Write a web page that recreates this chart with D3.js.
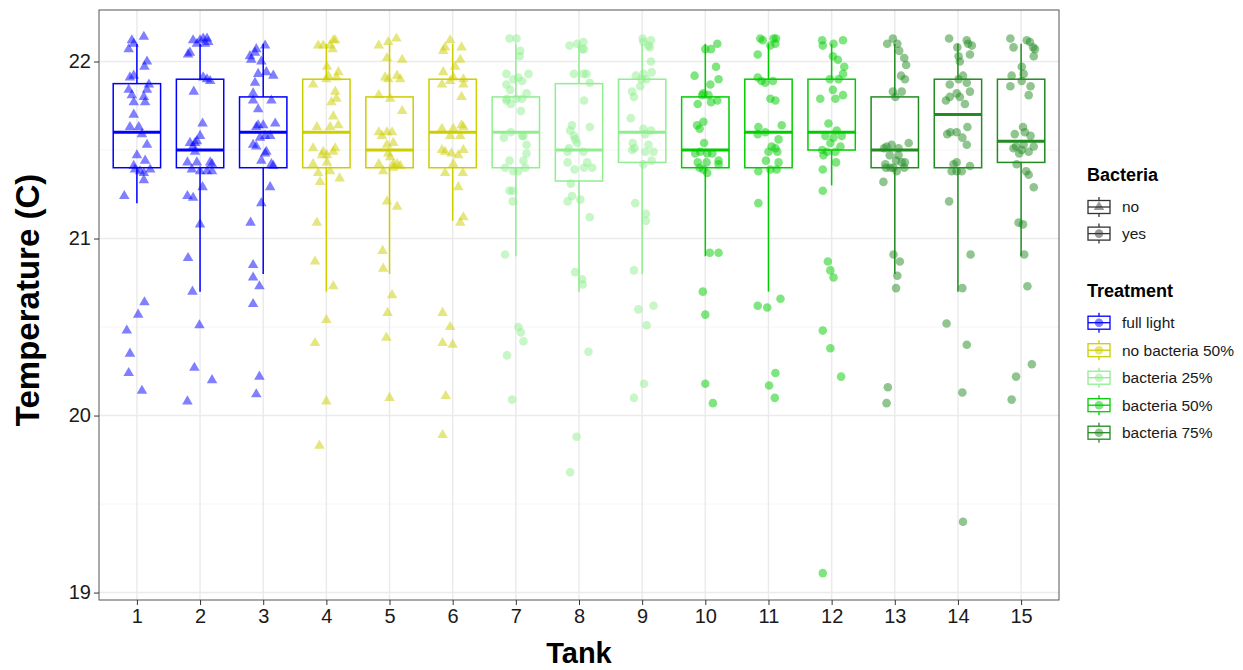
<!DOCTYPE html>
<html>
<head>
<meta charset="utf-8">
<script src="https://cdn.jsdelivr.net/npm/d3@7"></script>
<style>
  body { margin: 0; background: #fff; }
  text { font-family: "Liberation Sans", Arial, sans-serif; }
</style>
</head>
<body>
<div class="chart"></div>
<script>
// Tank categories and groupings
const tanks = [1, 2, 3, 4, 5, 6, 7, 8, 9, 10, 11, 12, 13, 14, 15];
const treatments = ["full light", "no bacteria 50%", "bacteria 25%", "bacteria 50%", "bacteria 75%"];
const treatmentColors = ["#0000FF", "#CDCD00", "#90EE90", "#00CD00", "#228B22"];
const tankTreatment = [0, 0, 0, 1, 1, 1, 2, 2, 2, 3, 3, 3, 4, 4, 4];
const tankBacteria = ["no", "no", "no", "no", "no", "no", "yes", "yes", "yes", "yes", "yes", "yes", "yes", "yes", "yes"];

// Box statistics
const whiskerLow  = [21.20, 20.70, 20.80, 20.70, 20.80, 21.10, 20.90, 20.70, 20.80, 20.90, 20.70, 21.30, 20.80, 20.70, 20.90];
const lowerHinge  = [21.40, 21.40, 21.40, 21.40, 21.40, 21.40, 21.40, 21.325, 21.43, 21.40, 21.40, 21.50, 21.40, 21.40, 21.43];
const medians     = [21.60, 21.50, 21.60, 21.60, 21.50, 21.60, 21.60, 21.50, 21.60, 21.50, 21.60, 21.60, 21.50, 21.70, 21.55];
const upperHinge  = [21.875, 21.90, 21.80, 21.90, 21.80, 21.90, 21.80, 21.875, 21.90, 21.80, 21.90, 21.90, 21.80, 21.90, 21.90];
const whiskerHigh = [22.10, 22.10, 22.10, 22.10, 22.10, 22.10, 22.10, 22.10, 22.10, 22.10, 22.10, 22.10, 22.10, 22.10, 22.10];

// Jittered observations per tank: [jitter offset (tank units), temperature]
const tank01 = [[.11,22.14],[-.08,22.12],[-.13,22.07],[-.05,22.10],[.16,22.00],[.12,21.97],[-.05,21.92],[-.11,21.91],[.19,21.87],[.16,21.84],[-.13,21.84],[-.08,21.81],[.11,21.80],[-.05,21.77],[.13,21.77],[-.05,21.70],[-.11,21.63],[.03,21.63],[.08,21.59],[.16,21.53],[0,21.47],[.13,21.44],[-.05,21.41],[-.03,21.39],[.21,21.39],[.05,21.38],[.11,21.37],[.11,21.33],[-.2,21.24],[.12,20.64],[.02,20.57],[-.16,20.48],[-.11,20.35],[-.13,20.24],[.08,20.14]];
const tank02 = [[-.11,22.12],[0,22.12],[.05,22.13],[.11,22.13],[.13,22.11],[.08,22.10],[-.05,22.10],[-.16,22.05],[-.19,22.04],[.05,21.91],[.11,21.90],[.16,21.89],[-.10,21.83],[.04,21.65],[0,21.58],[-.16,21.54],[-.08,21.54],[-.05,21.55],[-.11,21.52],[-.08,21.49],[-.20,21.43],[-.05,21.43],[.16,21.43],[.19,21.42],[-.13,21.39],[0,21.38],[.11,21.38],[.19,21.38],[.04,21.29],[-.20,21.24],[-.11,21.23],[0,21.08],[-.19,20.89],[-.12,20.70],[-.01,20.51],[-.09,20.27],[.19,20.20],[-.20,20.08]];
const tank03 = [[.03,22.09],[-.11,22.07],[-.13,22.05],[-.21,22.03],[-.19,22.01],[-.03,22.00],[-.08,21.93],[.05,21.94],[.16,21.92],[-.13,21.88],[-.16,21.82],[-.16,21.78],[-.08,21.73],[.13,21.78],[-.08,21.64],[0,21.64],[-.11,21.63],[.19,21.65],[.03,21.58],[-.05,21.57],[.11,21.58],[-.16,21.53],[-.11,21.52],[.05,21.49],[.03,21.48],[-.03,21.44],[.13,21.42],[.16,21.41],[.11,21.29],[-.03,21.20],[-.20,21.09],[-.16,20.85],[-.16,20.78],[-.06,20.73],[-.16,20.63],[-.06,20.22],[-.11,20.12]];
const tank04 = [[-.13,22.09],[-.05,22.09],[.06,22.09],[.11,22.12],[.10,22.07],[.14,22.12],[.01,21.97],[.19,21.94],[.03,21.92],[0,21.90],[.16,21.91],[-.21,21.87],[.14,21.83],[.16,21.79],[.08,21.77],[.11,21.69],[.19,21.64],[-.15,21.63],[.06,21.63],[-.21,21.51],[.14,21.51],[-.05,21.49],[.01,21.47],[-.07,21.47],[.11,21.49],[-.21,21.42],[.01,21.43],[.06,21.38],[-.13,21.37],[-.10,21.32],[.21,21.34],[-.15,21.09],[-.18,20.87],[.11,20.73],[0,20.54],[-.18,20.41],[0,20.08],[-.11,19.83]];
const tank05 = [[-.17,22.09],[-.02,22.11],[.11,22.13],[-.04,22.02],[.20,22.01],[-.07,21.91],[.12,21.92],[.17,21.90],[-.02,21.90],[-.17,21.81],[.01,21.79],[.20,21.72],[-.17,21.60],[-.04,21.60],[.04,21.60],[-.12,21.58],[.06,21.54],[-.04,21.53],[-.02,21.48],[.01,21.46],[-.17,21.42],[.06,21.42],[.12,21.42],[.17,21.41],[-.10,21.38],[.06,21.40],[-.04,21.21],[.12,21.18],[-.11,20.93],[-.10,20.83],[.04,20.68],[-.03,20.58],[-.05,20.44],[0,20.10]];
const tank06 = [[-.04,22.12],[-.12,22.08],[.14,22.08],[-.15,22.06],[.12,22.01],[.04,21.97],[-.15,21.94],[.01,21.91],[.17,21.90],[-.04,21.89],[-.17,21.87],[.17,21.87],[.14,21.80],[-.17,21.62],[.01,21.62],[.14,21.64],[.17,21.63],[-.04,21.58],[.12,21.58],[-.17,21.50],[-.12,21.49],[-.02,21.48],[.17,21.50],[.09,21.47],[.01,21.42],[-.12,21.37],[.16,21.37],[.09,21.29],[.17,21.12],[.12,21.09],[-.16,20.58],[-.04,20.50],[-.16,20.41],[0,20.40],[-.11,20.11],[-.16,19.89]];
const tank07 = [[-.10,22.13],[.01,22.13],[.07,22.06],[.06,22.03],[-.15,21.93],[.20,21.93],[-.04,21.90],[.04,21.91],[.10,21.89],[-.15,21.87],[-.09,21.84],[.17,21.82],[-.14,21.79],[-.15,21.78],[-.08,21.76],[.10,21.79],[.01,21.79],[.08,21.72],[-.08,21.60],[-.19,21.57],[.10,21.58],[.12,21.58],[.17,21.53],[.17,21.48],[-.10,21.44],[.12,21.44],[-.17,21.40],[.15,21.40],[-.04,21.38],[.04,21.38],[-.10,21.27],[-.05,21.27],[-.05,21.21],[-.17,20.91],[.04,20.50],[.08,20.47],[.12,20.42],[-.14,20.34],[-.06,20.09]];
const tank08 = [[-.15,22.09],[-.03,22.10],[.07,22.11],[.05,22.07],[.08,22.07],[-.08,21.93],[.07,21.93],[.12,21.93],[.17,21.88],[.08,21.78],[.17,21.63],[-.11,21.64],[-.14,21.61],[-.08,21.58],[-.06,21.56],[-.03,21.54],[-.16,21.51],[-.18,21.49],[.07,21.49],[-.18,21.43],[-.07,21.39],[.08,21.40],[.13,21.43],[.21,21.40],[-.13,21.31],[-.11,21.24],[-.18,21.21],[.02,21.22],[.17,21.12],[-.06,20.81],[.05,20.77],[.06,20.74],[.15,20.36],[-.04,19.88],[-.14,19.68]];
const tank09 = [[.01,22.13],[.02,22.11],[.14,22.12],[.10,22.09],[.12,22.08],[.14,22.00],[.15,21.94],[.02,21.93],[-.10,21.92],[.07,21.90],[-.01,21.90],[-.03,21.86],[-.16,21.83],[-.13,21.80],[-.18,21.68],[.02,21.62],[.14,21.61],[.05,21.59],[-.15,21.54],[.10,21.53],[-.16,21.50],[-.12,21.51],[.05,21.49],[.18,21.49],[.15,21.44],[.02,21.42],[-.11,21.20],[.06,21.14],[.06,21.10],[-.13,20.82],[-.06,20.60],[.18,20.62],[.07,20.51],[.03,20.18],[-.13,20.10]];
const tank10 = [[.19,22.10],[0,22.07],[.09,22.07],[.17,21.97],[-.17,21.92],[.21,21.90],[.08,21.87],[-.03,21.82],[-.05,21.81],[.05,21.81],[-.12,21.76],[.09,21.77],[.19,21.78],[-.13,21.64],[-.03,21.66],[-.09,21.62],[-.02,21.54],[-.16,21.48],[-.08,21.49],[.03,21.48],[.11,21.48],[-.12,21.43],[.02,21.43],[.21,21.44],[.21,21.42],[-.09,21.40],[-.03,21.39],[.03,21.37],[.07,20.92],[.21,20.92],[-.04,20.70],[0,20.57],[0,20.18],[.12,20.07]];
const tank11 = [[-.13,22.13],[-.09,22.12],[.08,22.13],[.12,22.13],[.03,22.09],[.11,22.10],[-.17,22.04],[-.17,21.91],[-.11,21.89],[-.05,21.88],[.07,21.89],[.03,21.79],[.11,21.78],[-.16,21.63],[-.17,21.59],[-.05,21.60],[.21,21.64],[.16,21.56],[.05,21.52],[0,21.49],[.11,21.51],[.14,21.49],[-.04,21.44],[.16,21.43],[-.16,21.38],[.03,21.39],[.13,21.39],[-.16,21.20],[.19,20.66],[-.17,20.62],[-.02,20.61],[.11,20.24],[.01,20.17],[.10,20.10]];
const tank12 = [[-.15,22.12],[-.14,22.09],[.03,22.10],[.18,22.12],[.02,22.03],[.10,22.01],[.20,21.97],[.18,21.93],[.11,21.90],[-.03,21.90],[.02,21.84],[.18,21.81],[-.18,21.79],[.06,21.79],[-.05,21.65],[.08,21.61],[.16,21.58],[-.10,21.58],[.03,21.57],[-.02,21.54],[.14,21.52],[-.15,21.50],[-.07,21.49],[.06,21.49],[-.13,21.47],[.07,21.43],[-.14,21.39],[-.14,21.27],[-.06,20.87],[-.02,20.82],[.03,20.78],[-.14,20.48],[-.02,20.38],[.15,20.22],[-.14,19.11]];
const tank13 = [[-.03,22.13],[-.12,22.10],[.04,22.10],[.07,22.06],[.15,22.02],[.18,21.98],[.10,21.92],[.16,21.90],[-.03,21.83],[.11,21.83],[.01,21.80],[-.17,21.51],[-.05,21.53],[.06,21.51],[.22,21.54],[-.13,21.52],[-.08,21.47],[.06,21.47],[.02,21.44],[.11,21.43],[.16,21.43],[-.15,21.42],[-.14,21.40],[-.02,21.40],[.15,21.40],[.03,21.38],[-.07,21.40],[-.18,21.32],[-.02,20.91],[.08,20.87],[.04,20.79],[.02,20.72],[-.11,20.16],[-.13,20.07]];
const tank14 = [[-.14,22.13],[.14,22.12],[-.01,22.08],[.22,22.09],[.16,22.10],[.01,22.03],[.03,22.00],[.19,22.04],[.08,21.92],[-.13,21.87],[.14,21.88],[.01,21.90],[.19,21.83],[-.02,21.82],[-.13,21.80],[-.19,21.78],[.03,21.80],[.11,21.76],[.15,21.63],[-.02,21.60],[-.12,21.60],[-.17,21.59],[.07,21.57],[.14,21.53],[-.02,21.43],[-.07,21.42],[.19,21.41],[-.10,21.38],[-.02,21.38],[.06,21.38],[-.14,21.21],[.20,20.91],[.07,20.72],[-.18,20.52],[.14,20.40],[.07,20.13],[.08,19.40]];
const tank15 = [[-.17,22.13],[-.12,22.08],[.09,22.12],[.14,22.11],[.19,22.08],[.22,22.07],[.20,22.03],[.01,21.97],[.04,21.93],[-.15,21.92],[.01,21.89],[-.17,21.86],[.15,21.86],[.12,21.81],[.03,21.63],[.06,21.60],[-.10,21.59],[.15,21.58],[-.12,21.51],[-.08,21.52],[.04,21.53],[.20,21.52],[.01,21.50],[-.03,21.48],[.12,21.49],[-.07,21.42],[.08,21.38],[.12,21.36],[.20,21.29],[-.04,21.09],[.03,21.08],[.05,20.91],[.10,20.73],[.17,20.29],[-.08,20.22],[-.15,20.09]];
const tankPoints = [tank01, tank02, tank03, tank04, tank05, tank06, tank07, tank08, tank09, tank10, tank11, tank12, tank13, tank14, tank15];

const yTicks = [19, 20, 21, 22];
const yMinor = [19.5, 20.5, 21.5];

// Layout
const outerWidth = 1243;
const outerHeight = 670;
const panel = { left: 99, top: 10, right: 1059, bottom: 600 };

const svg = d3.select('.chart')
  .append('svg')
    .attr('width', outerWidth)
    .attr('height', outerHeight);

const x = d3.scaleLinear().domain([0.4, 15.6]).range([panel.left, panel.right]);
const y = d3.scaleLinear().domain([18.958, 22.291]).range([panel.bottom, panel.top]);
const boxHalf = 0.375;

// Grid lines
const grid = svg.append('g');
grid.selectAll('.minor').data(yMinor).enter().append('line')
  .attr('x1', panel.left).attr('x2', panel.right)
  .attr('y1', d => y(d)).attr('y2', d => y(d))
  .attr('stroke', '#f2f2f2').attr('stroke-width', 0.8);
grid.selectAll('.majorY').data(yTicks).enter().append('line')
  .attr('x1', panel.left).attr('x2', panel.right)
  .attr('y1', d => y(d)).attr('y2', d => y(d))
  .attr('stroke', '#ebebeb').attr('stroke-width', 1.5);
grid.selectAll('.majorX').data(tanks).enter().append('line')
  .attr('y1', panel.top).attr('y2', panel.bottom)
  .attr('x1', d => x(d)).attr('x2', d => x(d))
  .attr('stroke', '#ebebeb').attr('stroke-width', 1.5);

// Boxplots
const boxes = svg.append('g').selectAll('g').data(tanks).enter().append('g')
  .attr('stroke', (d, i) => treatmentColors[tankTreatment[i]])
  .attr('fill', 'none');
boxes.append('line')
  .attr('x1', d => x(d)).attr('x2', d => x(d))
  .attr('y1', (d, i) => y(whiskerHigh[i])).attr('y2', (d, i) => y(upperHinge[i]))
  .attr('stroke-width', 1.5);
boxes.append('line')
  .attr('x1', d => x(d)).attr('x2', d => x(d))
  .attr('y1', (d, i) => y(lowerHinge[i])).attr('y2', (d, i) => y(whiskerLow[i]))
  .attr('stroke-width', 1.5);
boxes.append('rect')
  .attr('x', d => x(d - boxHalf)).attr('width', d => x(d + boxHalf) - x(d - boxHalf))
  .attr('y', (d, i) => y(upperHinge[i])).attr('height', (d, i) => y(lowerHinge[i]) - y(upperHinge[i]))
  .attr('stroke-width', 1.5);
boxes.append('line')
  .attr('x1', d => x(d - boxHalf)).attr('x2', d => x(d + boxHalf))
  .attr('y1', (d, i) => y(medians[i])).attr('y2', (d, i) => y(medians[i]))
  .attr('stroke-width', 3);

// Jittered points
const triangle = d3.symbol().type(d3.symbolTriangle).size(48);
const pts = svg.append('g');
tanks.forEach((t, i) => {
  const col = treatmentColors[tankTreatment[i]];
  const sel = pts.selectAll(null).data(tankPoints[i]);
  if (tankBacteria[i] === 'no') {
    sel.enter().append('path')
      .attr('d', triangle)
      .attr('transform', d => `translate(${x(t + d[0])},${y(d[1])})`)
      .attr('fill', col).attr('fill-opacity', 0.5);
  } else {
    sel.enter().append('circle')
      .attr('cx', d => x(t + d[0])).attr('cy', d => y(d[1]))
      .attr('r', 4.3)
      .attr('fill', col).attr('fill-opacity', 0.5);
  }
});

// Panel border
svg.append('rect')
  .attr('x', panel.left).attr('y', panel.top)
  .attr('width', panel.right - panel.left).attr('height', panel.bottom - panel.top)
  .attr('fill', 'none').attr('stroke', '#555').attr('stroke-width', 1);

// Axes
const yAxis = svg.append('g')
  .attr('transform', `translate(${panel.left},0)`)
  .call(d3.axisLeft(y).tickValues(yTicks).tickFormat(d3.format('d')).tickSize(5).tickPadding(3));
const xAxis = svg.append('g')
  .attr('transform', `translate(0,${panel.bottom})`)
  .call(d3.axisBottom(x).tickValues(tanks).tickFormat(d3.format('d')).tickSize(5).tickPadding(4));
[xAxis, yAxis].forEach(a => {
  a.select('.domain').remove();
  a.selectAll('.tick line').attr('stroke', '#333');
  a.selectAll('.tick text')
    .attr('fill', '#1a1a1a')
    .style('font-size', '20px')
    .style('font-family', '"Liberation Sans", Arial, sans-serif');
});

// Axis titles
svg.append('text')
  .attr('x', (panel.left + panel.right) / 2).attr('y', 663)
  .attr('text-anchor', 'middle')
  .style('font-size', '29px').style('font-weight', 'bold')
  .text('Tank');
svg.append('text')
  .attr('transform', `translate(39,300) rotate(-90)`)
  .attr('text-anchor', 'middle')
  .style('font-size', '33px').style('font-weight', 'bold')
  .text('Temperature (C)');

// Legends
function drawKey(g, cx, cy, stroke, shape, fill) {
  g.append('line').attr('x1', cx).attr('x2', cx).attr('y1', cy - 10).attr('y2', cy + 10)
    .attr('stroke', stroke).attr('stroke-width', 1.3);
  g.append('rect').attr('x', cx - 11).attr('y', cy - 6.5).attr('width', 22).attr('height', 13)
    .attr('fill', '#fff').attr('stroke', stroke).attr('stroke-width', 1.3);
  g.append('line').attr('x1', cx - 11).attr('x2', cx + 11).attr('y1', cy).attr('y2', cy)
    .attr('stroke', stroke).attr('stroke-width', 1.3);
  if (shape === 'triangle') {
    g.append('path').attr('d', triangle).attr('transform', `translate(${cx},${cy})`)
      .attr('fill', fill).attr('fill-opacity', 0.5);
  } else {
    g.append('circle').attr('cx', cx).attr('cy', cy).attr('r', 4.3)
      .attr('fill', fill).attr('fill-opacity', 0.5);
  }
}

const legend = svg.append('g');
const bacteriaLevels = ['no', 'yes'];
legend.append('text').attr('x', 1087).attr('y', 181)
  .style('font-size', '18px').style('font-weight', 'bold').text('Bacteria');
bacteriaLevels.forEach((lv, i) => {
  const cy = 207 + i * 26.6;
  drawKey(legend, 1099, cy, '#333', i === 0 ? 'triangle' : 'circle', '#333');
  legend.append('text').attr('x', 1122).attr('y', cy).attr('dy', '0.35em')
    .style('font-size', '15.5px').attr('fill', '#1a1a1a').text(lv);
});
legend.append('text').attr('x', 1087).attr('y', 297)
  .style('font-size', '18px').style('font-weight', 'bold').text('Treatment');
treatments.forEach((tr, i) => {
  const cy = 322.7 + i * 27.5;
  drawKey(legend, 1099, cy, treatmentColors[i], 'circle', treatmentColors[i]);
  legend.append('text').attr('x', 1122).attr('y', cy).attr('dy', '0.35em')
    .style('font-size', '15.5px').attr('fill', '#1a1a1a').text(tr);
});
</script>
</body>
</html>
